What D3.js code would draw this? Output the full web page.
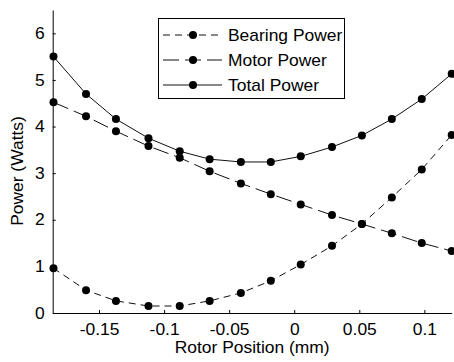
<!DOCTYPE html>
<html>
<head>
<meta charset="utf-8">
<script src="https://cdn.jsdelivr.net/npm/d3@7"></script>
<style>
  html, body { margin: 0; padding: 0; background: #fff; }
  svg { display: block; }
  text { font-family: "Liberation Sans", Arial, sans-serif; fill: #000; }
</style>
</head>
<body>
<svg id="chart" width="454" height="362"></svg>
<script>
// ---- data ----
const rotorPosition = [-0.185, -0.160, -0.137, -0.112, -0.088, -0.065, -0.041, -0.018, 0.005, 0.029, 0.052, 0.075, 0.098, 0.121];
const bearingPower = [0.96, 0.49, 0.26, 0.15, 0.15, 0.26, 0.43, 0.69, 1.04, 1.44, 1.91, 2.48, 3.08, 3.82];
const motorPower   = [4.52, 4.22, 3.90, 3.58, 3.33, 3.04, 2.78, 2.55, 2.33, 2.10, 1.91, 1.71, 1.50, 1.33];
const totalPower   = [5.50, 4.70, 4.16, 3.75, 3.47, 3.30, 3.24, 3.24, 3.36, 3.56, 3.81, 4.16, 4.59, 5.13];
const seriesNames  = ["Bearing Power", "Motor Power", "Total Power"];
const xTickValues  = [-0.15, -0.1, -0.05, 0, 0.05, 0.1];
const xTickLabels  = ["-0.15", "-0.1", "-0.05", "0", "0.05", "0.1"];
const yTickValues  = [0, 1, 2, 3, 4, 5, 6];
const xTitle = "Rotor Position (mm)";
const yTitle = "Power (Watts)";

// ---- layout ----
const SX = 1.09;           // horizontal text stretch seen in reference
const FS = 16;
const plot = { left: 52.7, right: 451.7, top: 10, bottom: 313 };
const svg = d3.select("#chart");

const x = d3.scaleLinear().domain([-0.1856, 0.121]).range([plot.left, plot.right]);
const y = d3.scaleLinear().domain([0, 6.5]).range([plot.bottom, plot.top]);

const series = [
  { name: seriesNames[0], values: bearingPower, dash: "7,5" },
  { name: seriesNames[1], values: motorPower, dash: "16,6" },
  { name: seriesNames[2], values: totalPower, dash: null }
];

// axes
const xAxis = d3.axisBottom(x).tickValues(xTickValues)
  .tickFormat((d, i) => xTickLabels[i]).tickSizeInner(-3).tickSizeOuter(0).tickPadding(11);
const yAxis = d3.axisLeft(y).tickValues(yTickValues)
  .tickFormat(d => String(d)).tickSizeInner(-3).tickSizeOuter(0).tickPadding(8);

const gx = svg.append("g").attr("transform", `translate(0,${plot.bottom})`).call(xAxis);
const gy = svg.append("g").attr("transform", `translate(${plot.left},0)`).call(yAxis);
[gx, gy].forEach(g => {
  g.selectAll(".domain").attr("stroke", "#000").attr("stroke-width", 1);
  g.selectAll(".tick line").attr("stroke", "#000");
  g.selectAll("text").attr("font-size", FS).attr("font-family", "Liberation Sans, Arial, sans-serif").attr("fill", "#000");
});
gx.selectAll(".tick text").attr("dy", "0.68em").attr("transform", `scale(${SX},1)`);
gy.selectAll(".tick text").each(function() {
  const t = d3.select(this);
  t.attr("x", -8 / SX).attr("transform", `scale(${SX},1)`);
});

// lines
const line = d3.line().x((d, i) => x(rotorPosition[i])).y(d => y(d));
series.forEach(s => {
  svg.append("path")
    .attr("d", line(s.values))
    .attr("fill", "none")
    .attr("stroke", "#111")
    .attr("stroke-width", 1)
    .attr("stroke-dasharray", s.dash);
  svg.append("g").selectAll("circle").data(s.values).join("circle")
    .attr("cx", (d, i) => x(rotorPosition[i]))
    .attr("cy", d => y(d))
    .attr("r", 4)
    .attr("fill", "#000");
});

// axis titles
svg.append("text")
  .attr("transform", `translate(${(plot.left + plot.right) / 2},353) scale(${SX},1)`)
  .attr("text-anchor", "middle").attr("font-size", FS).text(xTitle);
svg.append("text")
  .attr("transform", `translate(23,171) rotate(-90) scale(${SX},1)`)
  .attr("text-anchor", "middle").attr("font-size", FS).text(yTitle);

// legend
const leg = svg.append("g");
leg.append("rect").attr("x", 158.5).attr("y", 18.5).attr("width", 186).attr("height", 80)
  .attr("fill", "#fff").attr("stroke", "#000").attr("stroke-width", 1);
series.forEach((s, i) => {
  const cy = 35 + i * 25;
  leg.append("line").attr("x1", 163).attr("x2", 222).attr("y1", cy).attr("y2", cy)
    .attr("stroke", "#111").attr("stroke-width", 1).attr("stroke-dasharray", s.dash);
  leg.append("circle").attr("cx", 193).attr("cy", cy).attr("r", 4).attr("fill", "#000");
  leg.append("text").attr("transform", `translate(228,${cy + 5.5}) scale(${SX},1)`)
    .attr("font-size", FS).text(s.name);
});
</script>
</body>
</html>
